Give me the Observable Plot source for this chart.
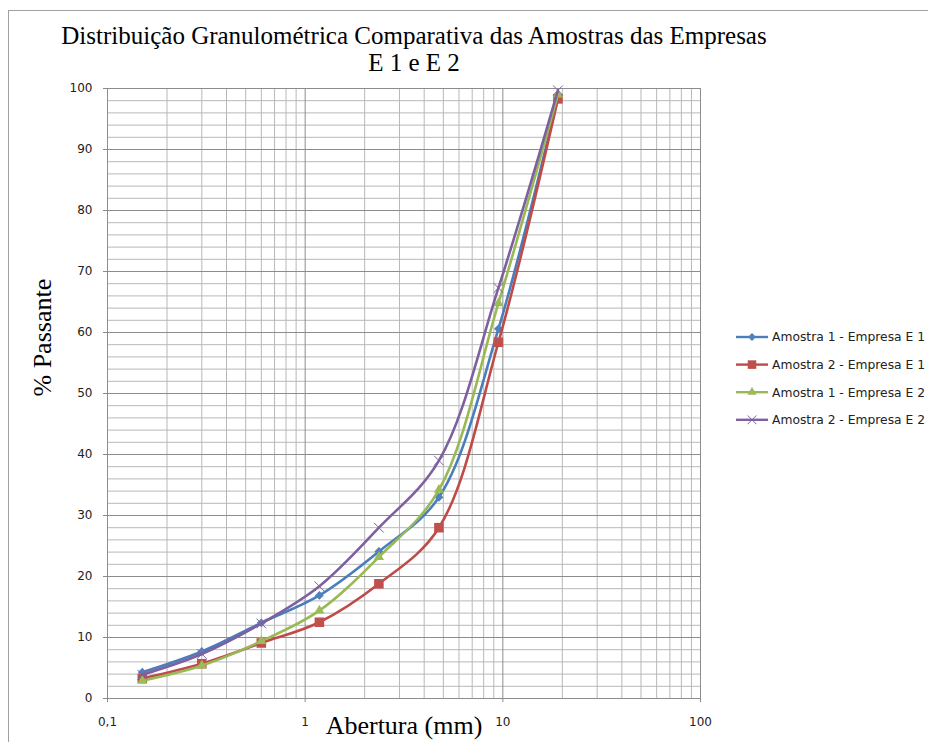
<!DOCTYPE html>
<html><head><meta charset="utf-8">
<script src="https://cdn.jsdelivr.net/npm/d3@7"></script>
<script src="https://cdn.jsdelivr.net/npm/@observablehq/plot@0.6"></script>
<style>
html,body{margin:0;padding:0;background:#fff;overflow:hidden;}
#wrap{position:relative;width:928px;height:742px;overflow:hidden;background:#fff;}
#border{position:absolute;left:8px;top:10px;width:1000px;height:1000px;border:1px solid #a0a0a0;box-sizing:border-box;}
#chart{position:absolute;left:0;top:0;}
#title{position:absolute;left:0;top:0;}
#legend{position:absolute;left:728px;top:320px;}
</style></head><body>
<div id="wrap"><div id="border"></div><div id="chart"></div><svg id="title" width="928" height="80"></svg><svg id="legend" width="200" height="120"></svg></div>
<script>
// ---- data ----
const aberturas = [0.15, 0.3, 0.6, 1.18, 2.36, 4.75, 9.5, 19];
const amostra1E1 = [4.3, 7.7, 12.4, 16.9, 24.1, 33.0, 60.6, 98.5];
const amostra2E1 = [3.3, 5.7, 9.1, 12.5, 18.8, 28.0, 58.4, 98.3];
const amostra1E2 = [2.9, 5.4, 9.4, 14.4, 23.2, 34.2, 64.8, 99.0];
const amostra2E2 = [3.9, 7.3, 12.3, 18.4, 28.0, 39.0, 67.3, 99.7];
const seriesNames = ["Amostra 1 - Empresa E 1", "Amostra 2 - Empresa E 1", "Amostra 1 - Empresa E 2", "Amostra 2 - Empresa E 2"];
const seriesValues = [amostra1E1, amostra2E1, amostra1E2, amostra2E2];
const seriesColors = ["#4A7EBB", "#BE4B48", "#98B954", "#7D60A0"];
const markerFills = ["#4F81BD", "#C0504D", "#9BBB59", "none"];
const markerSymbols = ["diamond2", "square", "triangle", "times"];
const markerR = [4, 5.4, 3.8, 4.5];
const xTicks = [0.1, 1, 10, 100];
const xTickLabels = ["0,1", "1", "10", "100"];
const yTicks = [0, 10, 20, 30, 40, 50, 60, 70, 80, 90, 100];
const yMinorTicks = [2,4,6,8,12,14,16,18,22,24,26,28,32,34,36,38,42,44,46,48,52,54,56,58,62,64,66,68,72,74,76,78,82,84,86,88,92,94,96,98];
const xMinorTicks = [0.2,0.3,0.4,0.5,0.6,0.7,0.8,0.9,2,3,4,5,6,7,8,9,20,30,40,50,60,70,80,90];
const titleLines = ["Distribuição Granulométrica Comparativa das Amostras das Empresas", "E 1 e E 2"];
const xLabel = "Abertura (mm)";
const yLabel = "% Passante";

// ---- table ----
const rows = [];
seriesNames.forEach((name, s) => {
  aberturas.forEach((a, i) => rows.push({serie: name, s, abertura: a, passante: seriesValues[s][i]}));
});

const marks = [
  Plot.gridX({ticks: xMinorTicks, stroke: "#b8b8b8", strokeOpacity: 1}),
  Plot.gridY({ticks: yMinorTicks, stroke: "#b8b8b8", strokeOpacity: 1}),
  Plot.gridX({ticks: xTicks, stroke: "#8c8c8c", strokeOpacity: 1}),
  Plot.gridY({ticks: yTicks, stroke: "#8c8c8c", strokeOpacity: 1}),
  Plot.axisX({ticks: xTicks, tickFormat: d => xTickLabels[xTicks.indexOf(d)], tickSize: 4, tickPadding: 15,
    fontSize: 12, fontFamily: "DejaVu Sans", stroke: "#8c8c8c", fill: "#222", label: null}),
  Plot.axisY({ticks: yTicks, tickSize: 4, tickPadding: 11, fontSize: 12, fontFamily: "DejaVu Sans",
    stroke: "#8c8c8c", fill: "#222", label: null}),
];
seriesNames.forEach((name, s) => {
  const d = rows.filter(r => r.s === s);
  marks.push(Plot.line(d, {x: "abertura", y: "passante", stroke: seriesColors[s], strokeWidth: 2.6, curve: "catmull-rom"}));
  marks.push(Plot.dot(d, {x: "abertura", y: "passante", symbol: () => markerSymbols[s], r: markerR[s],
    fill: markerFills[s], stroke: s === 3 ? seriesColors[s] : "none", strokeWidth: 1}));
});
marks.push(Plot.text([yLabel], {frameAnchor: "left", dx: -65, dy: 3, rotate: -90, fontSize: 26, fontFamily: "Liberation Serif", fill: "#000"}));
marks.push(Plot.text([xLabel], {frameAnchor: "bottom", dy: 35, fontSize: 26, fontFamily: "Liberation Serif", fill: "#000"}));

const chart = Plot.plot({
  width: 928, height: 742,
  marginTop: 88, marginBottom: 44, marginLeft: 107, marginRight: 228,
  x: {type: "log", domain: [0.1, 100]},
  y: {domain: [0, 100]},
  symbol: {type: "identity"},
  style: {background: "transparent", overflow: "visible"},
  marks
});
document.getElementById("chart").appendChild(chart);

// ---- title ----
const t = d3.select("#title");
t.append("text").attr("x", 414).attr("y", 44).attr("text-anchor", "middle")
  .attr("font-family", "Liberation Serif").attr("font-size", 25).attr("fill", "#000").text(titleLines[0]);
t.append("text").attr("x", 414).attr("y", 71).attr("text-anchor", "middle")
  .attr("font-family", "Liberation Serif").attr("font-size", 25).attr("fill", "#000").text(titleLines[1]);

// ---- legend ----
const lg = d3.select("#legend");
const symMap = {diamond2: d3.symbolDiamond2, square: d3.symbolSquare, triangle: d3.symbolTriangle, times: d3.symbolTimes};
seriesNames.forEach((name, s) => {
  const y = 17 + s * 27.6;
  const g = lg.append("g").attr("transform", `translate(0,${y})`);
  g.append("line").attr("x1", 8).attr("x2", 40).attr("y1", 0).attr("y2", 0).attr("stroke", seriesColors[s]).attr("stroke-width", 2.4);
  g.append("path").attr("transform", "translate(24,0)")
    .attr("d", d3.symbol(symMap[markerSymbols[s]], Math.PI * markerR[s] * markerR[s] * 0.8)())
    .attr("fill", markerFills[s]).attr("stroke", s === 3 ? seriesColors[s] : "none");
  g.append("text").attr("x", 44).attr("y", 0).attr("dy", "0.35em").attr("font-family", "DejaVu Sans")
    .attr("font-size", 12.3).attr("fill", "#222").text(name);
});
</script>
</body></html>
